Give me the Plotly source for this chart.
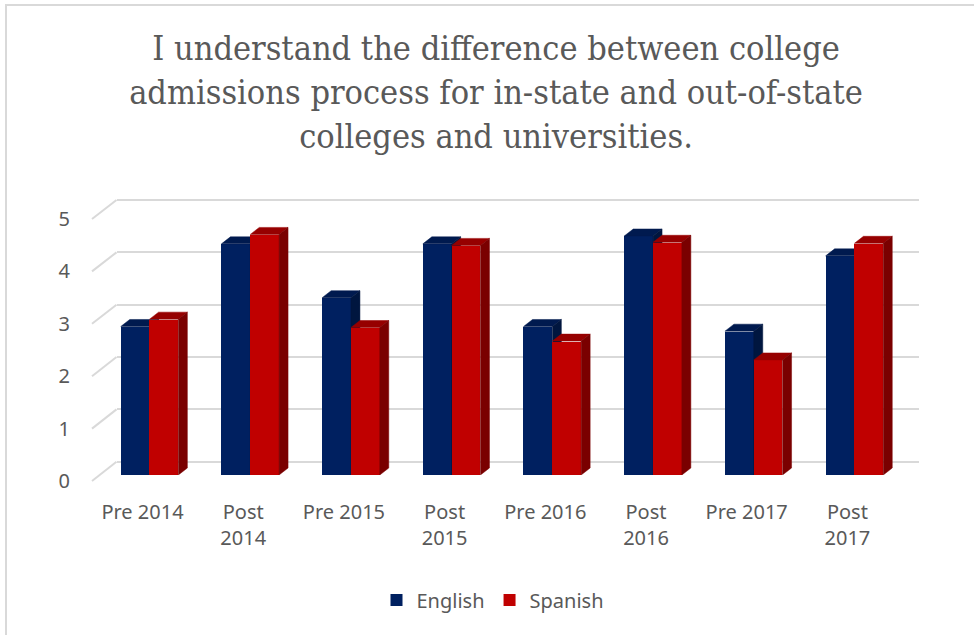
import plotly.graph_objects as go

# ---------------- data ----------------
categories = ["Pre 2014", "Post<br>2014", "Pre 2015", "Post<br>2015",
              "Pre 2016", "Post<br>2016", "Pre 2017", "Post<br>2017"]
english = [2.84, 4.42, 3.39, 4.42, 2.84, 4.57, 2.75, 4.19]
spanish = [2.98, 4.60, 2.82, 4.39, 2.56, 4.45, 2.20, 4.43]
y_ticks = [0, 1, 2, 3, 4, 5]
title_text = ("I understand the difference between college<br>"
              "admissions process for in-state and out-of-state<br>"
              "colleges and universities.")

# ---------------- geometry helpers (pixels -> paper) ----------------
W, H = 974, 635
def px_x(p):
    return p / W
def px_y(p):
    return 1 - p / H

GRID = "#d9d9d9"
TXT = "#595959"
FONT = "Noto Sans"

# bar axis: 0 at 475px, 52.3 px per unit ; category spacing 100.7 px
BAR_Y0, BAR_SCALE = 475.0, 52.3
CAT_W, CAT0 = 100.7, 142.5
bx0 = CAT0 - 0.5 * CAT_W
bx1 = bx0 + 8 * CAT_W

# 3D depth offsets in data units
DX = 9.0 / CAT_W
DY = 7.0 / BAR_SCALE
BAR_W = 0.286
OFF_E = -0.216
OFF_S = 0.07

# back wall
BACK_Y0, BACK_Y5 = 461.7, 200.0
back_scale = (BACK_Y0 - BACK_Y5) / 5
FRONT_Y0, FRONT_Y5 = 481.0, 219.0
front_scale = (FRONT_Y0 - FRONT_Y5) / 5


def faces(values, off):
    tx, ty, sx, sy = [], [], [], []
    for i, v in enumerate(values):
        L = i + off
        R = L + BAR_W
        tx += [L, L + DX, R + DX, R, L, None]
        ty += [v, v + DY, v + DY, v, v, None]
        sx += [R, R + DX, R + DX, R, R, None]
        sy += [0, DY, v + DY, v, 0, None]
    return tx, ty, sx, sy


fig = go.Figure()

# back wall grid subplot (dummy)
fig.add_trace(go.Scatter(x=[None], y=[None], xaxis="x", yaxis="y",
                         showlegend=False, hoverinfo="skip"))

xs = list(range(len(categories)))

# English
fig.add_trace(go.Bar(x=xs, y=english, name="English", xaxis="x2", yaxis="y2",
                     offset=OFF_E, width=BAR_W,
                     marker=dict(color="#002060", line=dict(width=0))))
tx, ty, sx, sy = faces(english, OFF_E)
fig.add_trace(go.Scatter(x=tx, y=ty, xaxis="x2", yaxis="y2", mode="lines",
                         fill="toself", fillcolor="#001a4f",
                         line=dict(color="#001a4f", width=0.5),
                         showlegend=False, hoverinfo="skip"))
fig.add_trace(go.Scatter(x=sx, y=sy, xaxis="x2", yaxis="y2", mode="lines",
                         fill="toself", fillcolor="#00163f",
                         line=dict(color="#00163f", width=0.5),
                         showlegend=False, hoverinfo="skip"))

# Spanish
fig.add_trace(go.Bar(x=xs, y=spanish, name="Spanish", xaxis="x3", yaxis="y3",
                     offset=OFF_S, width=BAR_W,
                     marker=dict(color="#c00000", line=dict(width=0))))
tx, ty, sx, sy = faces(spanish, OFF_S)
fig.add_trace(go.Scatter(x=tx, y=ty, xaxis="x3", yaxis="y3", mode="lines",
                         fill="toself", fillcolor="#960000",
                         line=dict(color="#960000", width=0.5),
                         showlegend=False, hoverinfo="skip"))
fig.add_trace(go.Scatter(x=sx, y=sy, xaxis="x3", yaxis="y3", mode="lines",
                         fill="toself", fillcolor="#7a0000",
                         line=dict(color="#7a0000", width=0.5),
                         showlegend=False, hoverinfo="skip"))

# y tick label axis (dummy)
fig.add_trace(go.Scatter(x=[None], y=[None], xaxis="x2", yaxis="y4",
                         showlegend=False, hoverinfo="skip"))

# side-wall diagonal gridlines + border
shapes = []
for v in y_ticks:
    shapes.append(dict(type="line", xref="paper", yref="paper",
                       x0=px_x(92), y0=px_y(FRONT_Y0 - v * front_scale),
                       x1=px_x(116.5), y1=px_y(BACK_Y0 - v * back_scale),
                       line=dict(color=GRID, width=2), layer="below"))
shapes.append(dict(type="rect", xref="paper", yref="paper",
                   x0=px_x(6), y0=px_y(5), x1=px_x(1000), y1=px_y(660),
                   line=dict(color=GRID, width=2), layer="below"))

pad = 0.02
fig.update_layout(
    width=W, height=H,
    margin=dict(l=0, r=0, t=0, b=0, pad=0, autoexpand=False),
    paper_bgcolor="white",
    plot_bgcolor="rgba(0,0,0,0)",
    showlegend=True,
    title=dict(text=title_text, x=px_x(496), xanchor="center",
               y=px_y(60), yanchor="top",
               font=dict(family="DejaVu Serif Condensed, DejaVu Serif", size=34, color=TXT)),
    xaxis=dict(domain=[px_x(116.5), px_x(919)], range=[0, 1], visible=False,
               anchor="y", automargin=False),
    yaxis=dict(domain=[px_y(BACK_Y0 + pad * back_scale), px_y(BACK_Y5 - pad * back_scale)],
               range=[-pad, 5 + pad], tickvals=y_ticks, showgrid=True,
               gridcolor=GRID, gridwidth=2, showticklabels=False,
               zeroline=False, showline=False, ticks="", anchor="x",
               automargin=False),
    xaxis2=dict(domain=[px_x(bx0), px_x(bx1)], range=[-0.5, 7.5],
                tickvals=xs, ticktext=categories, showgrid=False,
                zeroline=False, showline=False, ticks="", anchor="y2",
                tickfont=dict(family=FONT, size=20, color=TXT),
                ticklabelstandoff=23, automargin=False),
    yaxis2=dict(domain=[px_y(BAR_Y0), px_y(BAR_Y0 - 5 * BAR_SCALE)],
                range=[0, 5], visible=False, anchor="x2", automargin=False),
    xaxis3=dict(overlaying="x2", range=[-0.5, 7.5], visible=False, anchor="y3",
                automargin=False),
    yaxis3=dict(overlaying="y2", range=[0, 5], visible=False, anchor="x3",
                automargin=False),
    yaxis4=dict(domain=[px_y(FRONT_Y0), px_y(FRONT_Y5)], range=[0, 5],
                tickvals=y_ticks, anchor="free", position=px_x(70), side="left",
                showgrid=False, zeroline=False, showline=False, ticks="",
                tickfont=dict(family=FONT, size=20, color=TXT), automargin=False),
    legend=dict(orientation="h", x=px_x(493), xanchor="center",
                y=px_y(600), yanchor="middle",
                font=dict(family=FONT, size=20, color=TXT),
                bgcolor="rgba(0,0,0,0)"),
    shapes=shapes,
    bargap=0,
)

fig.write_html("out.html")
